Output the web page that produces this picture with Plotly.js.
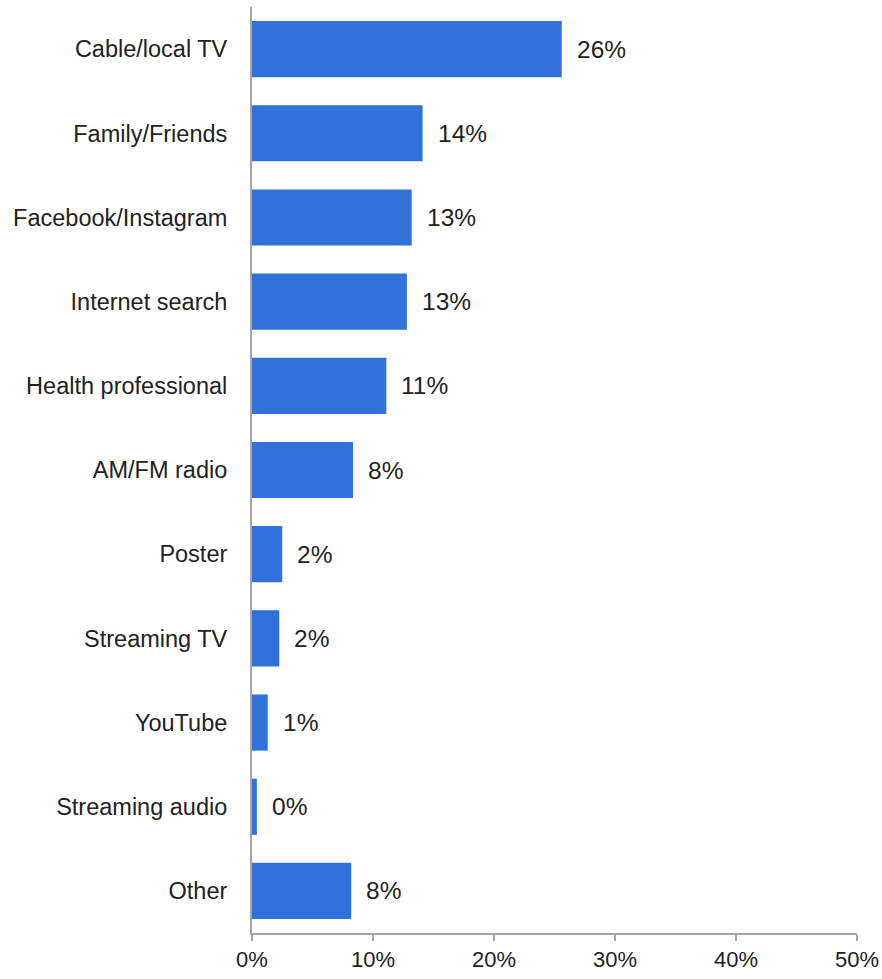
<!DOCTYPE html>
<html>
<head>
<meta charset="utf-8">
<script src="https://cdn.plot.ly/plotly-3.0.1.min.js"></script>
<style>html,body{margin:0;padding:0;background:#fff;}</style>
</head>
<body>
<div id="chart" style="width:882px;height:979px;"></div>
<script>
const categories = ["Cable/local TV","Family/Friends","Facebook/Instagram","Internet search","Health professional","AM/FM radio","Poster","Streaming TV","YouTube","Streaming audio","Other"];
const values = [25.6, 14.1, 13.2, 12.8, 11.1, 8.35, 2.5, 2.25, 1.3, 0.4, 8.2];
const labels = ["26%","14%","13%","13%","11%","8%","2%","2%","1%","0%","8%"];
const tickVals = [0, 10, 20, 30, 40, 50];
const tickText = ["0%","10%","20%","30%","40%","50%"];

const FONT = '"Liberation Sans", Arial, sans-serif';
const TXT = '#222222';

const trace = {
  type: 'bar',
  orientation: 'h',
  x: values,
  y: categories,
  marker: {color: '#3171DA', line: {width: 0}},
  hoverinfo: 'skip'
};

const annotations = values.map((v, i) => ({
  x: v, y: categories[i], xref: 'x', yref: 'y',
  text: labels[i], showarrow: false, xanchor: 'left', xshift: 13,
  font: {family: FONT, size: 24.5, color: TXT}
}));

const layout = {
  width: 882, height: 979,
  margin: {l: 252, r: 25, t: 7, b: 46},
  paper_bgcolor: '#ffffff', plot_bgcolor: '#ffffff',
  bargap: 0.333,
  showlegend: false,
  font: {family: FONT, size: 23.5, color: TXT},
  xaxis: {
    range: [0, 50], tickvals: tickVals, ticktext: tickText,
    showgrid: false, zeroline: false,
    showline: true, linecolor: '#a6a6a6', linewidth: 2,
    ticks: 'outside', ticklen: 6, tickcolor: '#a6a6a6', tickwidth: 2,
    tickfont: {family: FONT, size: 22, color: TXT},
    ticklabeloverflow: 'allow',
    fixedrange: true
  },
  yaxis: {
    autorange: 'reversed', type: 'category',
    showgrid: false, zeroline: false,
    showline: true, linecolor: '#a6a6a6', linewidth: 2,
    ticks: '', ticklabelstandoff: 18,
    tickfont: {family: FONT, size: 23.5, color: TXT},
    fixedrange: true
  },
  annotations: annotations
};

Plotly.newPlot('chart', [trace], layout, {displayModeBar: false, staticPlot: true});
</script>
</body>
</html>
